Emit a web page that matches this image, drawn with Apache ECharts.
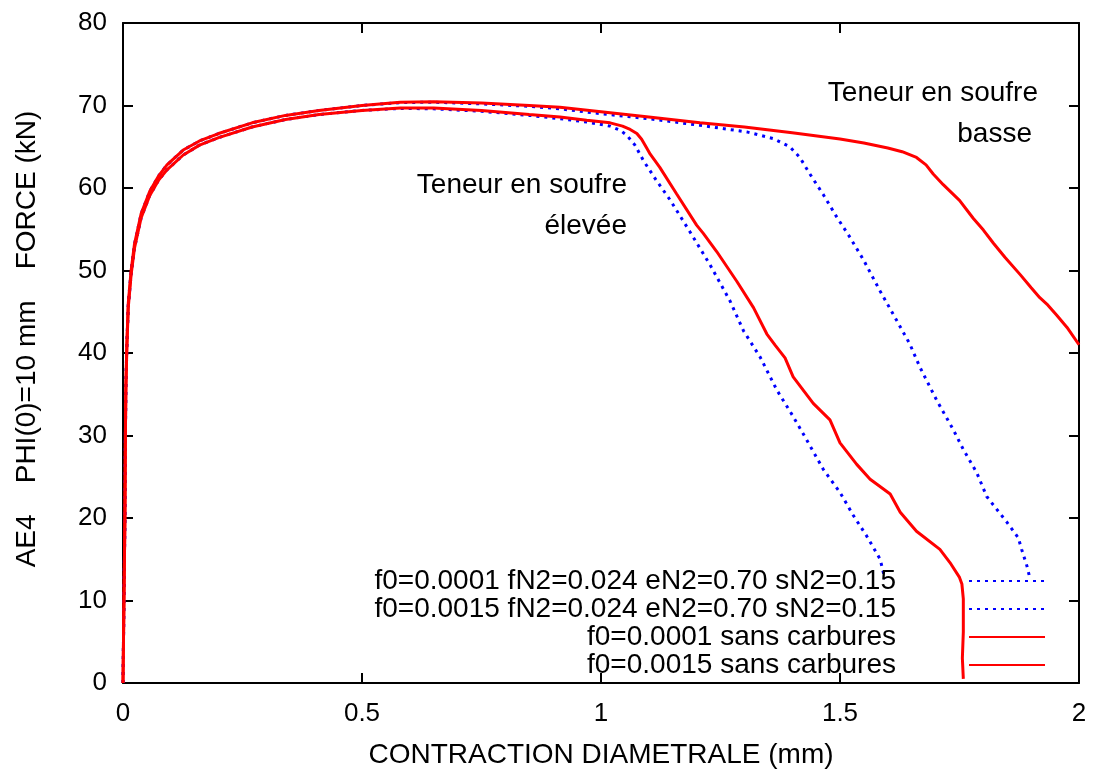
<!DOCTYPE html>
<html>
<head>
<meta charset="utf-8">
<script src="https://cdn.jsdelivr.net/npm/echarts@6/dist/echarts.min.js"></script>
<style>html,body{margin:0;padding:0;background:#fff}#c{width:1094px;height:774px}</style>
</head>
<body>
<div id="c"></div>
<script>
// ---- data (x = contraction diametrale mm, y = force kN) ----
const xTicks = [0, 0.5, 1, 1.5, 2];
const yTicks = [0, 10, 20, 30, 40, 50, 60, 70, 80];

const seriesNames = [
  'f0=0.0001 fN2=0.024 eN2=0.70 sN2=0.15',
  'f0=0.0015 fN2=0.024 eN2=0.70 sN2=0.15',
  'f0=0.0001 sans carbures',
  'f0=0.0015 sans carbures'
];

// low sulphur, with carbides (blue dotted)
const blueLow = [
  [0,0],[0.002,10],[0.004,20],[0.005,30],[0.006,36],[0.008,41],[0.011,46],[0.017,50],
  [0.024,53.2],[0.038,56.9],[0.056,59.6],[0.075,61.5],[0.092,62.8],[0.126,64.6],[0.16,65.7],
  [0.2,66.6],[0.27,67.9],[0.34,68.8],[0.41,69.4],[0.5,70.0],[0.58,70.35],[0.65,70.4],
  [0.75,70.2],[0.85,69.9],[0.914,69.6],[1.0,69.0],[1.1,68.4],[1.207,67.6],[1.305,66.8],
  [1.36,66.0],[1.395,65.0],[1.416,63.7],[1.437,61.7],[1.465,59.2],[1.493,56.5],[1.52,54.1],
  [1.549,51.3],[1.584,47.5],[1.619,43.9],[1.646,41.1],[1.667,38.3],[1.702,34.3],[1.737,30.7],
  [1.758,28.3],[1.786,25.5],[1.807,22.6],[1.849,19.5],[1.873,17.6],[1.88,16.2],[1.891,14.2],
  [1.896,13.0]
];

// high sulphur, with carbides (blue dotted)
const blueHigh = [
  [0,0],[0.002,10],[0.004,20],[0.005,30],[0.006,35.5],[0.008,40.5],[0.011,45.5],[0.017,49.5],
  [0.024,52.7],[0.038,56.4],[0.056,59.1],[0.075,61.0],[0.092,62.2],[0.126,64.0],[0.16,65.2],
  [0.2,66.1],[0.27,67.4],[0.34,68.3],[0.41,68.9],[0.5,69.4],[0.58,69.65],[0.65,69.6],
  [0.75,69.3],[0.85,68.8],[0.914,68.4],[0.97,68.0],[1.019,67.5],[1.04,67.0],[1.054,66.4],
  [1.071,65.2],[1.089,63.3],[1.116,60.9],[1.144,58.6],[1.186,54.7],[1.228,50.7],[1.27,46.3],
  [1.298,42.7],[1.333,39.5],[1.368,35.5],[1.402,32.3],[1.43,29.5],[1.465,25.9],[1.5,23.1],
  [1.528,20.3],[1.556,17.8],[1.584,15.0],[1.594,12.6]
];

// low sulphur, no carbides (red solid)
const redLow = [
  [0,0],[0.002,10],[0.004,20],[0.005,30],[0.006,36],[0.008,41],[0.011,46],[0.017,50],
  [0.024,53.2],[0.038,56.9],[0.056,59.6],[0.075,61.5],[0.092,62.8],[0.126,64.6],[0.16,65.7],
  [0.2,66.6],[0.27,67.9],[0.34,68.8],[0.41,69.4],[0.5,70.0],[0.58,70.4],[0.65,70.45],
  [0.75,70.3],[0.85,70.0],[0.914,69.8],[1.0,69.25],[1.1,68.6],[1.207,67.9],[1.3,67.4],
  [1.4,66.7],[1.5,65.95],[1.55,65.45],[1.6,64.85],[1.63,64.4],[1.66,63.7],[1.68,62.8],
  [1.695,61.7],[1.716,60.4],[1.75,58.5],[1.779,56.3],[1.8,54.9],[1.821,53.3],[1.845,51.6],
  [1.877,49.5],[1.9,47.9],[1.918,46.7],[1.935,45.8],[1.953,44.6],[1.975,43.1],[2.0,41.0]
];

// high sulphur, no carbides (red solid)
const redHigh = [
  [0,0],[0.002,10],[0.004,20],[0.005,30],[0.006,35.5],[0.008,40.5],[0.011,45.5],[0.017,49.5],
  [0.024,52.7],[0.038,56.4],[0.056,59.1],[0.075,61.0],[0.092,62.2],[0.126,64.0],[0.16,65.2],
  [0.2,66.1],[0.27,67.4],[0.34,68.3],[0.41,68.9],[0.5,69.4],[0.58,69.7],[0.65,69.7],
  [0.75,69.4],[0.85,68.9],[0.914,68.6],[0.97,68.2],[1.019,67.9],[1.045,67.5],[1.061,67.1],
  [1.075,66.6],[1.085,65.9],[1.095,64.9],[1.103,64.1],[1.123,62.5],[1.158,59.3],[1.2,55.5],
  [1.214,54.5],[1.242,52.3],[1.284,48.7],[1.319,45.5],[1.347,42.3],[1.365,40.9],[1.385,39.4],
  [1.402,37.1],[1.444,33.9],[1.479,31.9],[1.5,29.1],[1.535,26.5],[1.563,24.7],[1.605,22.9],
  [1.626,20.7],[1.66,18.4],[1.709,16.2],[1.73,14.6],[1.75,12.8],[1.755,12.0],[1.758,10.2],
  [1.758,6.2],[1.756,3.0],[1.758,0.5]
];

const annotations = [
  {text: 'Teneur en soufre', right: 627, y: 185},
  {text: 'élevée', right: 627, y: 226},
  {text: 'Teneur en soufre', right: 1038, y: 93},
  {text: 'basse', right: 1032, y: 134}
];

// ---- chart ----
const FONT = '"Liberation Sans", Arial, sans-serif';
const chart = echarts.init(document.getElementById('c'), null, {renderer: 'canvas'});

const commonAxisLine = {show: true, onZero: false, lineStyle: {color: '#000', width: 2}};
const commonTick = {show: true, inside: true, length: 10, lineStyle: {color: '#000', width: 2}};

function xAx(pos, showLabel) {
  return {
    type: 'value', position: pos, min: xTicks[0], max: xTicks[xTicks.length - 1],
    interval: xTicks[1] - xTicks[0],
    axisLine: commonAxisLine, axisTick: commonTick, splitLine: {show: false},
    axisLabel: {show: showLabel, color: '#000', fontSize: 26, fontFamily: FONT, margin: 18,
      formatter: v => String(v)}
  };
}
function yAx(pos, showLabel) {
  return {
    type: 'value', position: pos, min: yTicks[0], max: yTicks[yTicks.length - 1],
    interval: yTicks[1] - yTicks[0],
    axisLine: commonAxisLine, axisTick: commonTick, splitLine: {show: false},
    axisLabel: {show: showLabel, color: '#000', fontSize: 26, fontFamily: FONT, margin: 16}
  };
}

const xMain = xAx('bottom', true);
xMain.name = 'CONTRACTION DIAMETRALE (mm)';
xMain.nameLocation = 'middle';
xMain.nameGap = 58;
xMain.nameTextStyle = {color: '#000', fontSize: 28, fontFamily: FONT};

const yMain = yAx('left', true);
yMain.name = 'AE4    PHI(0)=10 mm    FORCE (kN)';
yMain.nameLocation = 'middle';
yMain.nameGap = 82;
yMain.nameTextStyle = {color: '#000', fontSize: 28, fontFamily: FONT, padding: [0, 0, 0, 28]};

const blueStyle = {color: '#0000ff', width: 3, type: [3, 5], cap: 'butt'};
const redStyle = {color: '#ff0000', width: 3, type: 'solid'};

const seriesData = [blueLow, blueHigh, redLow, redHigh];
const styles = [blueStyle, blueStyle, redStyle, redStyle];

chart.setOption({
  animation: false,
  backgroundColor: '#fff',
  grid: {left: 123, right: 15, top: 23, bottom: 85.5, containLabel: false},
  xAxis: [xMain, xAx('top', false)],
  yAxis: [yMain, yAx('right', false)],
  legend: {
    orient: 'vertical', align: 'right', right: 43, top: 562,
    itemWidth: 76, itemHeight: 14, itemGap: 0,
    data: seriesNames,
    itemStyle: {opacity: 0},
    textStyle: {color: '#000', fontSize: 28, fontFamily: FONT, lineHeight: 28, padding: [0, 68, 0, 0]},
    selectedMode: false
  },
  series: seriesNames.map((n, i) => ({
    name: n, type: 'line', xAxisIndex: 0, yAxisIndex: 0,
    data: seriesData[i], symbol: 'none', showSymbol: false, smooth: false,
    lineStyle: styles[i], itemStyle: {color: styles[i].color},
    z: i < 2 ? 2 : 3
  })),
  graphic: annotations.map(a => ({
    type: 'text', x: a.right, y: a.y,
    style: {text: a.text, fill: '#000', font: '28px ' + FONT, align: 'right', verticalAlign: 'middle'}
  }))
});
</script>
</body>
</html>
